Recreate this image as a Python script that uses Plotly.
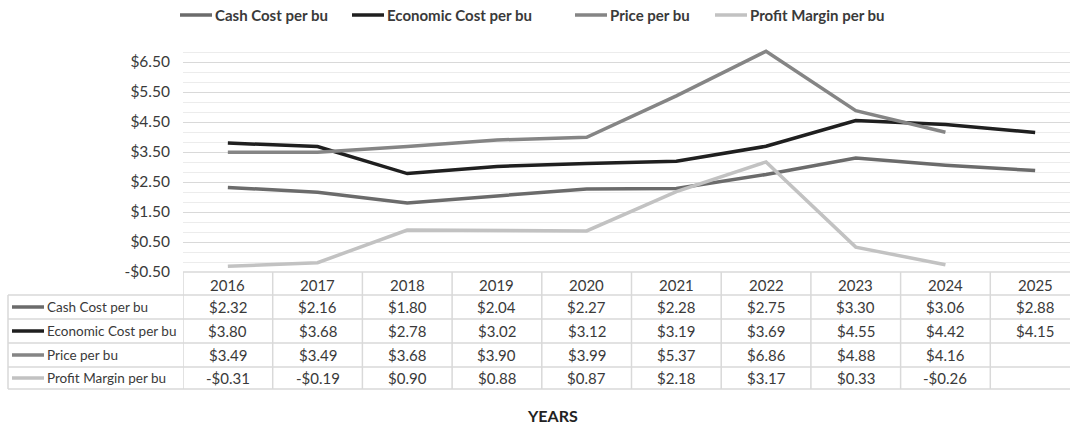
import plotly.graph_objects as go

# ---- data ----
years = ["2016", "2017", "2018", "2019", "2020", "2021", "2022", "2023", "2024", "2025"]
cash_cost = [2.32, 2.16, 1.80, 2.04, 2.27, 2.28, 2.75, 3.30, 3.06, 2.88]
economic_cost = [3.80, 3.68, 2.78, 3.02, 3.12, 3.19, 3.69, 4.55, 4.42, 4.15]
price = [3.49, 3.49, 3.68, 3.90, 3.99, 5.37, 6.86, 4.88, 4.16, None]
profit_margin = [-0.31, -0.19, 0.90, 0.88, 0.87, 2.18, 3.17, 0.33, -0.26, None]
series_names = ["Cash Cost per bu", "Economic Cost per bu", "Price per bu", "Profit Margin per bu"]
y_ticks = [-0.5, 0.5, 1.5, 2.5, 3.5, 4.5, 5.5, 6.5]

# ---- styling ----
W, H = 1070, 427
L, R, T, B = 183, 0, 47, 155
PW, PH = W - L - R, H - T - B
FONT = "Lato"
TXT = "#3a3a3a"
GRID = "#d9d9d9"
colors = ["#6b6b6b", "#1f1f1f", "#858585", "#c2c2c2"]
series = [cash_cost, economic_cost, price, profit_margin]
legend_key_x = [180, 352, 575, 715]  # pixel starts of legend keys


def money(v):
    if v is None:
        return ""
    return ("-$%.2f" % abs(v)) if v < 0 else ("$%.2f" % v)


def py(Y):  # pixel row -> paper y
    return (H - B - Y) / PH


def px(X):  # pixel col -> paper x
    return (X - L) / PW


fig = go.Figure()
for name, vals, c in zip(series_names, series, colors):
    fig.add_trace(go.Scatter(x=years, y=vals, name=name, mode="lines",
                             line=dict(color=c, width=3.5), showlegend=False))

col_w = 89.7
x_right = len(years) - 0.5 + (W - (L + col_w * len(years))) / col_w

fig.update_layout(
    width=W, height=H,
    margin=dict(l=L, r=R, t=T, b=B),
    paper_bgcolor="white", plot_bgcolor="white",
    font=dict(family=FONT, color=TXT, size=15),
    showlegend=False,
    xaxis=dict(type="category", range=[-0.5, x_right], showticklabels=False,
               showgrid=False, zeroline=False, showline=False, fixedrange=True),
    yaxis=dict(range=[-0.5, 7.0], tickvals=y_ticks, ticktext=[money(v) for v in y_ticks],
               showgrid=True, gridcolor=GRID, gridwidth=1, zeroline=False, showline=False,
               ticks="", ticklabelstandoff=12, tickfont=dict(size=15.5, color=TXT),
               minor=dict(dtick=1/3, tick0=-0.5, showgrid=True, gridcolor="#ececec", gridwidth=1),
               fixedrange=True),
)

shapes = []
ann = []
line_style = dict(color=GRID, width=1.5)

# legend (manual, Excel-like)
for name, c, X in zip(series_names, colors, legend_key_x):
    shapes.append(dict(type="line", xref="paper", yref="paper", x0=px(X), x1=px(X + 32),
                       y0=py(15), y1=py(15), line=dict(color=c, width=3.5)))
    ann.append(dict(x=px(X + 33), y=py(15), xref="paper", yref="paper", text="<b>%s</b>" % name,
                    showarrow=False, xanchor="left", yanchor="middle",
                    font=dict(size=15, color=TXT)))

# table geometry (pixel rows)
row_lines = [295, 319, 343, 367, 389]
header_top = H - B
row_centers = [(row_lines[i] + row_lines[i + 1]) / 2 for i in range(4)]
header_center = (header_top + row_lines[0]) / 2 + 1

shapes.append(dict(type="line", xref="paper", yref="paper", x0=0, x1=1.02,
                   y0=py(header_top), y1=py(header_top), line=line_style, layer="below"))
for Y in row_lines:
    shapes.append(dict(type="line", xref="paper", yref="paper", x0=px(8), x1=1.02,
                       y0=py(Y), y1=py(Y), line=line_style))
shapes.append(dict(type="line", xref="paper", yref="paper", x0=px(8), x1=px(8),
                   y0=py(row_lines[0]), y1=py(row_lines[-1]), line=line_style))
for k in range(len(years) + 1):
    xb = k - 0.5
    shapes.append(dict(type="line", xref="x", yref="paper", x0=xb, x1=xb,
                       y0=py(header_top), y1=py(row_lines[-1]), line=line_style))

for i, yr in enumerate(years):
    ann.append(dict(x=i, y=py(header_center), xref="x", yref="paper", text=yr,
                    showarrow=False, font=dict(size=15, color=TXT), xanchor="center", yanchor="middle"))

for r, (name, vals, c) in enumerate(zip(series_names, series, colors)):
    yc = py(row_centers[r])
    shapes.append(dict(type="line", xref="paper", yref="paper", x0=px(12), x1=px(44),
                       y0=yc, y1=yc, line=dict(color=c, width=3.5)))
    ann.append(dict(x=px(45), y=yc, xref="paper", yref="paper", text=name, showarrow=False,
                    xanchor="left", yanchor="middle", font=dict(size=13.5, color=TXT)))
    for i, v in enumerate(vals):
        if v is None:
            continue
        ann.append(dict(x=i, y=yc, xref="x", yref="paper", text=money(v), showarrow=False,
                        xanchor="center", yanchor="middle", font=dict(size=15, color=TXT)))

ann.append(dict(x=px(552), y=py(415), xref="paper", yref="paper", text="<b>YEARS</b>",
                showarrow=False, xanchor="center", yanchor="middle",
                font=dict(size=16, color="#222222")))

fig.update_layout(shapes=shapes, annotations=ann)
fig.write_html("out.html")
